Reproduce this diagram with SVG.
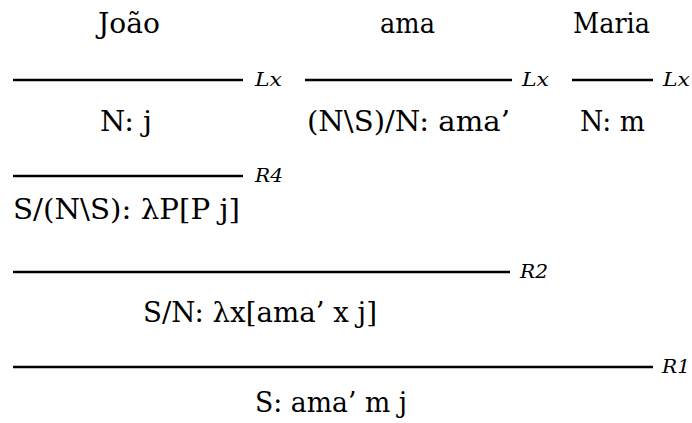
<svg xmlns="http://www.w3.org/2000/svg" width="692" height="423" viewBox="0 0 692 423">
<style>
.t{font-family:'DejaVu Serif','Liberation Serif',serif;font-size:27px;fill:#000}
.r{font-family:'DejaVu Serif','Liberation Serif',serif;font-size:18px;font-style:italic;fill:#000}
.l{stroke:#000;stroke-width:2.5;fill:none}
</style>
<rect width="692" height="423" fill="#fff"/>
<g id="joao"><text class="t" x="98" y="33" textLength="62" lengthAdjust="spacingAndGlyphs">João</text></g>
<g id="ama"><text class="t" x="380" y="33" textLength="55" lengthAdjust="spacingAndGlyphs">ama</text></g>
<g id="maria"><text class="t" x="573" y="33" textLength="77" lengthAdjust="spacingAndGlyphs">Maria</text></g>
<g id="nj"><text class="t" x="100" y="131" textLength="52" lengthAdjust="spacingAndGlyphs">N: j</text></g>
<g id="nsn"><text class="t" x="307" y="131" textLength="203" lengthAdjust="spacingAndGlyphs">(N\S)/N: ama’</text></g>
<g id="nm"><text class="t" x="580" y="131" textLength="65" lengthAdjust="spacingAndGlyphs">N: m</text></g>
<g id="sns"><text class="t" x="13" y="219" textLength="227" lengthAdjust="spacingAndGlyphs">S/(N\S): λP[P j]</text></g>
<g id="sn"><text class="t" x="143" y="322" textLength="234" lengthAdjust="spacingAndGlyphs">S/N: λx[ama’ x j]</text></g>
<g id="s"><text class="t" x="255" y="412" textLength="152" lengthAdjust="spacingAndGlyphs">S: ama’ m j</text></g>
<g id="connectors">
<line class="l" x1="13" y1="80" x2="243" y2="80"/>
<text class="r" x="255" y="86" textLength="27" lengthAdjust="spacingAndGlyphs">Lx</text>
<line class="l" x1="305" y1="80" x2="512" y2="80"/>
<text class="r" x="522" y="86" textLength="27" lengthAdjust="spacingAndGlyphs">Lx</text>
<line class="l" x1="572" y1="80" x2="653" y2="80"/>
<text class="r" x="663" y="86" textLength="27" lengthAdjust="spacingAndGlyphs">Lx</text>
<line class="l" x1="13" y1="176" x2="243" y2="176"/>
<text class="r" x="255" y="182" textLength="28" lengthAdjust="spacingAndGlyphs">R4</text>
<line class="l" x1="13" y1="272" x2="510" y2="272"/>
<text class="r" x="520" y="278" textLength="28" lengthAdjust="spacingAndGlyphs">R2</text>
<line class="l" x1="13" y1="367" x2="653" y2="367"/>
<text class="r" x="662" y="373" textLength="28" lengthAdjust="spacingAndGlyphs">R1</text>
</g>
</svg>
